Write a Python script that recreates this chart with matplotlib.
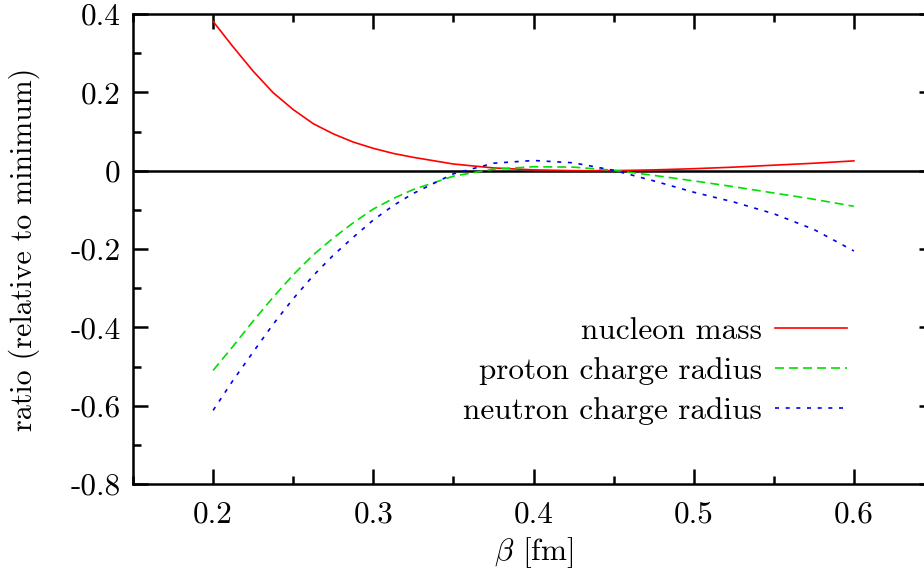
import matplotlib
matplotlib.use("Agg")
import matplotlib.pyplot as plt
from matplotlib.ticker import MultipleLocator

plt.rcParams['font.family'] = ['cmr10', 'DejaVu Serif']
plt.rcParams['mathtext.fontset'] = 'cm'
plt.rcParams['axes.unicode_minus'] = False
plt.rcParams['axes.formatter.use_mathtext'] = True

# beta values [fm]
beta = [0.2000, 0.2125, 0.2250, 0.2375, 0.2500, 0.2625, 0.2750, 0.2875, 0.3000,
        0.3125, 0.3250, 0.3500, 0.3750, 0.4000, 0.4250, 0.4500, 0.4750, 0.5000,
        0.5250, 0.5500, 0.5750, 0.6000]

nucleon_mass = [0.381, 0.316, 0.254, 0.199, 0.156, 0.120, 0.094, 0.073, 0.057,
                0.044, 0.034, 0.017, 0.007, 0.002, 0.000, 0.000, 0.002, 0.005,
                0.009, 0.014, 0.019, 0.025]
proton_radius = [-0.510, -0.448, -0.384, -0.323, -0.266, -0.215, -0.172, -0.133, -0.098,
                 -0.071, -0.048, -0.014, 0.004, 0.010, 0.009, 0.001, -0.012, -0.026,
                 -0.041, -0.057, -0.073, -0.091]
neutron_radius = [-0.612, -0.535, -0.463, -0.392, -0.327, -0.268, -0.216, -0.170, -0.126,
                  -0.089, -0.058, -0.008, 0.019, 0.026, 0.020, 0.001, -0.026, -0.055,
                  -0.080, -0.110, -0.150, -0.205]

xticks = [0.2, 0.3, 0.4, 0.5, 0.6]
yticks = [0.4, 0.2, 0.0, -0.2, -0.4, -0.6, -0.8]

fig = plt.figure(figsize=(9.24, 5.72), dpi=100)
# the right border of the original plot is cut off by the image edge
ax = fig.add_axes([133/924, 88/572, 801/924, 470/572])

ax.axhline(0, color='black', lw=1.8, zorder=1)
ax.plot(beta, nucleon_mass, color='#ff0000', lw=1.2, label='nucleon mass')
ax.plot(beta, proton_radius, color='#00e000', lw=1.2, dashes=(5.4, 3.0),
        label='proton charge radius')
ax.plot(beta, neutron_radius, color='#0000ee', lw=1.2, dashes=(2.4, 4.0),
        label='neutron charge radius')

ax.set_xlim(0.15, 0.65)
ax.set_ylim(-0.8, 0.4)
ax.set_xticks(xticks)
ax.set_xticklabels(['%g' % v for v in xticks])
ax.set_yticks(yticks)
ax.set_yticklabels(['0' if v == 0 else '%.1f' % v for v in yticks])
ax.xaxis.set_minor_locator(MultipleLocator(0.05))
ax.yaxis.set_minor_locator(MultipleLocator(0.1))
ax.tick_params(which='both', direction='in', top=True, right=True, width=1.8,
               labelsize=22.5)
ax.tick_params(which='major', length=11)
ax.tick_params(which='minor', length=5.5)
ax.tick_params(axis='y', pad=9)
ax.tick_params(axis='x', pad=12)
for s in ax.spines.values():
    s.set_linewidth(1.8)

ax.set_xlabel(r'$\beta$ [fm]', fontsize=22.5, labelpad=5)
ax.set_ylabel('ratio (relative to minimum)', fontsize=21.6, labelpad=22)

leg = ax.legend(loc='lower right', bbox_to_anchor=(0.891, 0.1255), frameon=False,
                markerfirst=False, fontsize=22.5, handlelength=2.3,
                handletextpad=0.4, labelspacing=0.38, borderpad=0,
                borderaxespad=0)
leg._legend_box._children[-1]._children[0].align = 'right'

fig.savefig('out.png', dpi=100)
